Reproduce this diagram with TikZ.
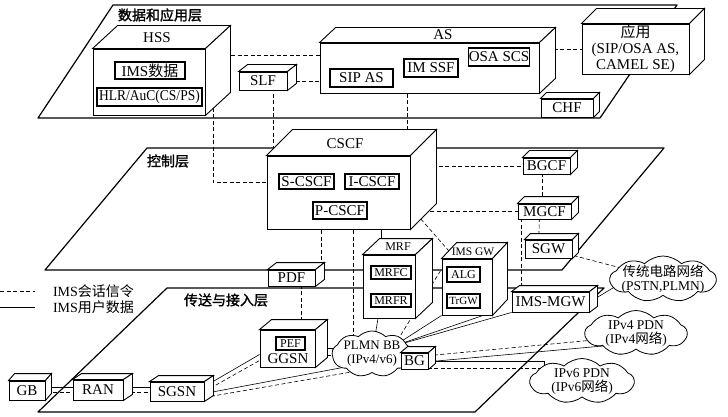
\documentclass[tikz,border=0pt]{standalone}
\usepackage{fontspec}
\usepackage{graphicx}
\setmainfont{Liberation Serif}
\newfontfamily\cjk{Noto Sans CJK SC}
\newfontfamily\cjkb{Noto Sans CJK SC}[FakeBold=1.6]
\usetikzlibrary{calc,shapes.symbols}
\pgfdeclarelayer{back}
\pgfdeclarelayer{links}
\pgfsetlayers{back,links,main}
% 3d block: name, x, y, width, height, depth x, depth y, text
\newcommand{\cuboid}[8]{%
	\node[cubefront,minimum width=#4pt,minimum height=#5pt] (#1) at (#2,#3) {#8};
	\coordinate (#1-bne) at ([shift={(#6,#7)}]#1.north east);
	\coordinate (#1-bse) at ([shift={(#6,#7)}]#1.south east);
	\filldraw[cubeface] (#1.north west) -- ++(#6,#7) -- (#1-bne) -- (#1.north east) -- cycle;
	\filldraw[cubeface] (#1.north east) -- (#1-bne) -- (#1-bse) -- (#1.south east) -- cycle;
}
\begin{document}
\begin{tikzpicture}[x=1pt,y=-1pt,
		cubefront/.style={draw,fill=white,line width=0.9pt,inner sep=0pt,align=center,font=\fontsize{15}{16}\selectfont},
		cubeface/.style={draw,fill=white,line width=0.9pt},
		inbox/.style={draw,fill=white,line width=1.3pt,inner sep=0pt,font=\fontsize{15}{16}\selectfont},
		smalltxt/.style={font=\fontsize{12}{13}\selectfont},
		lbl/.style={font=\fontsize{14}{15}\selectfont\cjkb},
		legtxt/.style={font=\fontsize{14}{15}\selectfont},
		plane/.style={line width=1.2pt,line join=round},
		sigline/.style={line width=0.6pt,dash pattern=on 4pt off 2.5pt},
		userline/.style={line width=0.6pt},
		cloudy/.style={cloud,cloud puffs=9,cloud puff arc=90,cloud ignores aspect,draw,fill=white,line width=0.8pt,inner sep=0pt},
		cloudtxt/.style={align=center,font=\fontsize{13.5}{14}\selectfont}]
	\useasboundingbox (0,0) rectangle (728,417);
	% layers
	\begin{pgfonlayer}{back}
		\draw[plane] (113,5) -- (677,5) -- (600,118) -- (38,118) -- cycle;
		\draw[plane] (147,148) -- (664,148) -- (562,270) -- (45,270) -- cycle;
		\draw[plane] (167,288) -- (604,288) -- (475,412) -- (38,412) -- cycle;
	\end{pgfonlayer}
	\node[lbl] (datal) at (160,15) {数据和应用层};
	\node[lbl] (ctrll) at (168,161) {控制层};
	\node[lbl] (tranl) at (226,300) {传送与接入层};
	% data and application layer
	\cuboid{hss}{149}{82}{112}{66}{25}{-23}{}
	\node[legtxt,font=\fontsize{15}{16}\selectfont] (hssl) at ($(hss.north)+(8,-11)$) {HSS};
	\node[inbox,minimum width=70pt,minimum height=17pt] (imsdata) at (150,70.5) {IMS{\cjk 数据}};
	\node[inbox,minimum width=105pt,minimum height=18pt] (hlr) at (149.5,97) {\scalebox{0.9}[1]{HLR/AuC(CS/PS)}};
	\cuboid{slf}{263}{81}{48}{18}{9}{-7}{SLF}
	\cuboid{as}{429.5}{68}{219}{50}{16}{-15}{}
	\node[legtxt,font=\fontsize{15}{16}\selectfont] (asl) at ($(as.north)+(13.5,-8)$) {AS};
	\node[inbox,minimum width=63pt,minimum height=18pt] (sipas) at (361.5,78) {SIP AS};
	\node[inbox,minimum width=54pt,minimum height=18pt] (imssf) at (431,68) {IM SSF};
	\node[inbox,minimum width=60pt,minimum height=18pt] (osascs) at (499,57) {OSA SCS};
	\cuboid{chf}{567}{108}{52}{18}{6}{-6}{CHF}
	\cuboid{app}{635.5}{49}{107}{50}{15}{-15}{{\cjk 应用}\\(SIP/OSA AS,\\CAMEL SE)}
	% control layer
	\cuboid{cscf}{338.5}{192.5}{143}{73}{26}{-26}{}
	\node[legtxt,font=\fontsize{15}{16}\selectfont] (cscfl) at ($(cscf.north)+(6.5,-12)$) {CSCF};
	\node[inbox,minimum width=55pt,minimum height=15pt] (scscf) at (306.5,181.5) {S-CSCF};
	\node[inbox,minimum width=54pt,minimum height=15pt] (icscf) at (372,181.5) {I-CSCF};
	\node[inbox,minimum width=54pt,minimum height=17pt] (pcscf) at (340,210.5) {P-CSCF};
	\cuboid{bgcf}{546.5}{166}{47}{16}{7}{-7}{BGCF}
	\cuboid{mgcf}{544.5}{211.5}{53}{15}{7}{-7}{MGCF}
	\cuboid{sgw}{548.5}{249}{47}{18}{6}{-6}{SGW}
	\cuboid{pdf}{291.5}{278}{47}{16}{9}{-7}{PDF}
	\cuboid{mrf}{389}{286.5}{52}{63}{17}{-16}{}
	\node[smalltxt] (mrfl) at ($(mrf.north)+(9,-8)$) {MRF};
	\node[inbox,smalltxt,minimum width=40pt,minimum height=13pt] (mrfc) at (391,272.5) {MRFC};
	\node[inbox,smalltxt,minimum width=40pt,minimum height=13pt] (mrfr) at (391,300.5) {MRFR};
	\cuboid{imsgw}{467}{287}{50}{56}{15}{-16}{}
	\node[font=\fontsize{11.5}{12}\selectfont] (imsgwl) at ($(imsgw.north)+(6,-7)$) {IMS GW};
	\node[inbox,smalltxt,minimum width=33pt,minimum height=15pt] (alg) at (463.5,274.5) {ALG};
	\node[inbox,font=\fontsize{11}{12}\selectfont,minimum width=33pt,minimum height=14pt] (trgw) at (463.5,301) {TrGW};
	% transport and access layer
	\cuboid{imsmgw}{550.5}{302}{77}{20}{8}{-6}{IMS-MGW}
	\cuboid{ggsn}{287.5}{348.5}{55}{37}{12}{-10}{}
	\node[inbox,smalltxt,minimum width=29pt,minimum height=13pt] (pef) at (290.5,343.5) {PEF};
	\node[legtxt,font=\fontsize{15}{16}\selectfont] (ggsnt) at (288,359) {GGSN};
	\node[cloudy,minimum width=80pt,minimum height=46pt] (plmn) at (372,354) {};
	\node[cloudtxt,font=\fontsize{13}{14}\selectfont] (plmnt) at (plmn.center) {PLMN BB\\(IPv4/v6)};
	\cuboid{bg}{414.5}{361}{27}{16}{7}{-6}{BG}
	\cuboid{gb}{27}{390.5}{36}{19}{6}{-7}{GB}
	\cuboid{ran}{98}{390}{50}{20}{9}{-6}{RAN}
	\cuboid{sgsn}{177}{391.5}{54}{19}{9}{-6}{SGSN}
	\node[cloudy,minimum width=106pt,minimum height=46pt] (pstn) at (663,279) {};
	\node[cloudtxt] (pstnt) at (pstn.center) {{\cjk 传统电路网络}\\(PSTN,PLMN)};
	\node[cloudy,minimum width=102pt,minimum height=45pt] (ipv4) at (636,333) {};
	\node[cloudtxt] (ipv4t) at (ipv4.center) {IPv4 PDN\\(IPv4{\cjk 网络})};
	\node[cloudy,minimum width=104pt,minimum height=45pt] (ipv6) at (582,381) {};
	\node[cloudtxt] (ipv6t) at (ipv6.center) {IPv6 PDN\\(IPv6{\cjk 网络})};
	% legend
	\node[legtxt] (legsig) at (93.5,291) {IMS{\cjk 会话信令}};
	\node[legtxt] (leguser) at (93.5,307) {IMS{\cjk 用户数据}};
	\coordinate (legsig0) at (0,291);
	\coordinate (leguser0) at (0,307);
	\begin{pgfonlayer}{links}
		\draw[sigline] (legsig0) -- ([xshift=-15pt]legsig.west);
		\draw[userline] (leguser0) -- ([xshift=-15pt]leguser.west);
		% signalling
		\draw[sigline] ([yshift=-7pt]hss.north east) -- ([yshift=-13pt]as.north west);
		\draw[sigline] (slf.center) -- (slf.center -| as.center);
		\draw[sigline] (app.center) -- (app.center -| as.center);
		\draw[sigline] ([xshift=8pt]hss.east) |- ([yshift=-27pt]cscf.north west);
		\draw[sigline] ([xshift=10pt]slf.center) |- (cscf.center);
		\draw[sigline] ([xshift=-22pt]as.center) |- (cscf.center);
		\draw[sigline] (bgcf.center) -- (bgcf.center -| cscf.center);
		\draw[sigline] (mgcf.center) -- (mgcf.center -| cscf.center);
		\draw[sigline] ([xshift=-4pt]bgcf.center) |- (mgcf.center);
		\draw[sigline] ([xshift=-5pt]mgcf.center) -- ([xshift=-10pt]sgw.center);
		\draw[sigline] ([xshift=-23pt]mgcf.center) |- (imsmgw.center);
		\draw[sigline] (sgw.center) -- (pstn.center);
		\draw[sigline] ([xshift=-19pt]pcscf.center) |- (pdf.center);
		\draw[sigline] ([xshift=13pt]pcscf.center) |- (plmn.center);
		\draw[sigline] ($(cscf.south east)!0.4!(cscf-bse)$) -- ([xshift=14pt]imsgw.north west);
		\draw[sigline] ([xshift=10pt]pdf.center) |- (ggsn.center);
		% user data
		\draw[userline] ([xshift=-8pt]mrf.center) |- (cscf.center);
		\draw[userline] (imsmgw.east) -- ($(pstn.center)+(-35,0)$);
		\draw[userline] ([xshift=-11pt]mrf.south) -- (plmn.center);
		\coordinate (plmnhub) at ($(plmn.center)+(22,-8)$);
		\draw[sigline] (plmnhub) -- ([yshift=18pt]imsgw.west);
		\draw[userline] (plmnhub) -- (imsgw.south west);
		\draw[userline] (plmnhub) -- ([xshift=16pt]imsgw.south);
		\draw[userline] (plmnhub) -- (imsmgw.south west);
		\draw[userline] (ggsn.center) -- (ggsn.center -| plmn.center);
		\draw[sigline] ([yshift=-7pt]ggsn.center) -| (plmn.center);
		\draw[sigline] ([yshift=4pt]bg.center) -- ([yshift=-3pt]ipv4.center);
		\draw[userline] ([yshift=-2pt]bg.center) -- ([yshift=-10pt]ipv4.center);
		\draw[userline] (bg.center) -| ([xshift=15pt]ipv6.west);
		\draw[sigline] ([yshift=-7pt]bg.center) -| ([xshift=12pt]ipv6.west);
		\draw[userline] ([yshift=3pt]gb.center) -| (ran.center);
		\draw[sigline] ([yshift=-2pt]gb.center) -| (ran.center);
		\draw[userline] ([yshift=3pt]ran.center) -| (sgsn.center);
		\draw[sigline] ([yshift=-2pt]ran.center) -| (sgsn.center);
		\draw[userline] ([yshift=5pt]sgsn.east) -- ([yshift=-6pt]ggsn.west);
		\draw[sigline] (sgsn.east) -- ([yshift=-12pt]ggsn.west);
		\draw[userline] ([yshift=-2pt]sgsn.east) -- ([yshift=-8pt]plmn.center);
		\draw[sigline] ([yshift=-6pt]sgsn.east) -- (bg.center);
	\end{pgfonlayer}
\end{tikzpicture}
\end{document}
